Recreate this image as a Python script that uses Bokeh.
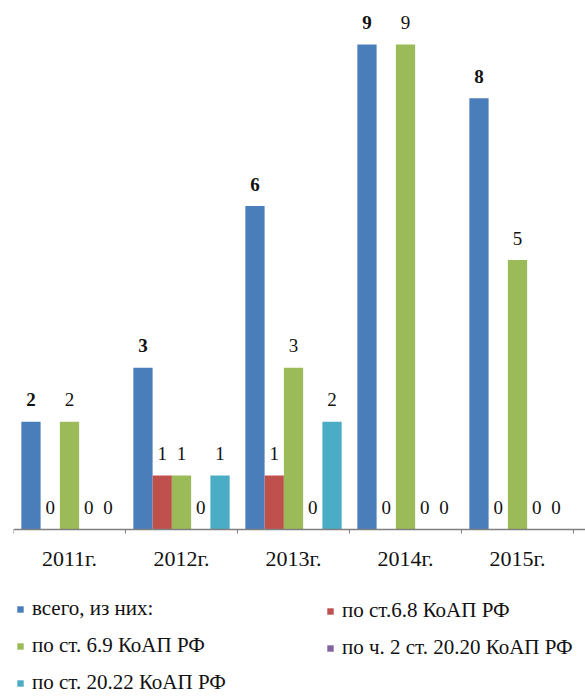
from bokeh.plotting import figure
from bokeh.models import ColumnDataSource, Range1d, FixedTicker, Legend, LegendItem
from bokeh.core.properties import value
from bokeh.embed import file_html
from bokeh.resources import INLINE

# ---- data ----
years = ["2011г.", "2012г.", "2013г.", "2014г.", "2015г."]
series_names = ["всего, из них:", "по ст.6.8 КоАП РФ", "по ст. 6.9 КоАП РФ",
                "по ч. 2 ст. 20.20 КоАП РФ", "по ст. 20.22 КоАП РФ"]
total = [2, 3, 6, 9, 8]
st_6_8 = [0, 1, 1, 0, 0]
st_6_9 = [2, 1, 3, 9, 5]
st_20_20 = [0, 0, 0, 0, 0]
st_20_22 = [0, 1, 2, 0, 0]
series_values = [total, st_6_8, st_6_9, st_20_20, st_20_22]
colors = ["#4A7EBB", "#C0504D", "#9BBB59", "#8064A2", "#4BACC6"]

# ---- layout constants (pixels) ----
W, H = 585, 697
left_border = 13
cat_px = 112.0           # pixels per category
unit_px = 53.9           # pixels per value unit
baseline_y = 529         # baseline from figure top
frame_w = W - left_border

p = figure(width=W, height=H, output_backend="svg", toolbar_location=None,
           x_range=Range1d(0, frame_w / cat_px),
           y_range=Range1d(-(H - baseline_y) / unit_px, baseline_y / unit_px),
           y_axis_location=None, x_axis_location="below",
           min_border_left=left_border, min_border_right=0,
           min_border_top=0, min_border_bottom=0)
p.outline_line_color = None
p.xgrid.visible = False
p.ygrid.visible = False
p.background_fill_color = "white"
p.border_fill_color = "white"

font = "'Liberation Serif', 'DejaVu Serif', serif"
group_w = 0.86
bar_w = group_w / 5
start = (1 - group_w) / 2

renderers = []
for k, (name, vals, col) in enumerate(zip(series_names, series_values, colors)):
    xs = [i + start + bar_w * (k + 0.5) for i in range(len(years))]
    src = ColumnDataSource(dict(x=xs, top=vals, label=[str(v) for v in vals]))
    r = p.vbar(x="x", top="top", bottom=0, width=bar_w, source=src,
               fill_color=col, line_color=None)
    renderers.append(r)
    p.text(x="x", y="top", text="label", source=src, y_offset=-22,
           text_align="center", text_baseline="middle",
           text_font=value(font), text_font_size="19px",
           text_font_style="bold" if k == 0 else "normal",
           text_color="#111111")

ax = p.xaxis[0]
ax.fixed_location = 0
ax.ticker = FixedTicker(ticks=[i + 0.5 for i in range(len(years))],
                        minor_ticks=list(range(len(years) + 1)))
ax.major_label_overrides = {i + 0.5: y for i, y in enumerate(years)}
ax.major_tick_line_color = None
ax.major_tick_out = 0
ax.major_tick_in = 0
ax.minor_tick_out = 4
ax.minor_tick_in = 0
ax.minor_tick_line_color = "#7F7F7F"
ax.axis_line_color = "#7F7F7F"
ax.axis_line_width = 1.5
ax.major_label_text_font = font
ax.major_label_text_font_size = "22px"
ax.major_label_text_color = "#111111"
ax.major_label_standoff = 12

def make_legend(idx, loc):
    lg = Legend(items=[LegendItem(label=series_names[i], renderers=[renderers[i]]) for i in idx],
                location=loc, orientation="vertical",
                glyph_width=8, glyph_height=8, label_standoff=8,
                label_text_font=font, label_text_font_size="21px",
                label_text_color="#111111", label_height=22,
                spacing=12, padding=0, margin=0,
                border_line_color=None, background_fill_alpha=0)
    p.add_layout(lg)

make_legend([0, 2, 4], (3, 2))
make_legend([1, 3], (313, 37))

open("out.html", "w").write(file_html(p, INLINE))
